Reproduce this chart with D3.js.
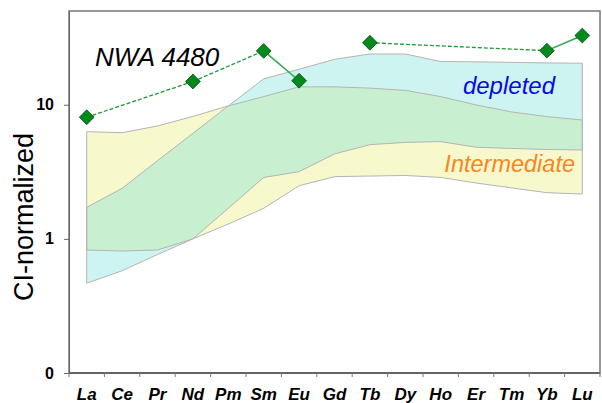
<!DOCTYPE html>
<html>
<head>
<meta charset="utf-8">
<script src="https://d3js.org/d3.v7.min.js"></script>
<style>
  html, body { margin: 0; padding: 0; background: #fff; }
  text { font-family: Arial, "Liberation Sans", sans-serif; }
</style>
</head>
<body>
<script>
// REE elements on the x axis
const elements = ["La","Ce","Pr","Nd","Pm","Sm","Eu","Gd","Tb","Dy","Ho","Er","Tm","Yb","Lu"];

// depleted field (upper / lower bound)
const depletedMax = [1.72, 2.38, 3.83, 6.12, 9.8, 15.6, 18.4, 21.8, 23.9, 23.9, 21.0, 20.9, 20.7, 20.5, 20.4];
const depletedMin = [0.467, 0.579, 0.764, 1.0, 1.69, 2.87, 3.17, 4.30, 5.04, 5.24, 5.31, 4.82, 4.72, 4.64, 4.60];

// intermediate field (upper / lower bound)
const interMax = [6.30, 6.19, 6.95, 8.18, 9.8, 11.5, 13.6, 13.6, 13.3, 12.8, 11.5, 9.97, 8.84, 8.15, 7.70];
const interMin = [0.826, 0.812, 0.826, 1.0, 1.29, 1.69, 2.49, 2.91, 2.94, 2.97, 2.87, 2.61, 2.40, 2.21, 2.16];

// NWA 4480 sample
const sampleEl = ["La","Nd","Sm","Eu","Tb","Yb","Lu"];
const sampleVal = [8.07, 14.9, 25.2, 15.1, 29.0, 25.3, 32.8];

const yTicks = [0.1, 1, 10];
const yTickLabels = ["0", "1", "10"];

const width = 602, height = 403;
const pLeft = 69, pRight = 600, pTop = 11, pBottom = 373;

const svg = d3.select("body").append("svg")
  .attr("width", width)
  .attr("height", height);

const x = d3.scaleBand().domain(elements).range([pLeft, pRight]);
const cx = d => x(d) + x.bandwidth() / 2;
const y = d3.scaleLog().domain([0.1, 50]).range([pBottom, pTop]);

function band(maxArr, minArr) {
  return d3.area()
    .x((d, i) => cx(elements[i]))
    .y0((d, i) => y(minArr[i]))
    .y1((d, i) => y(maxArr[i]))(elements);
}

const interPath = band(interMax, interMin);
const deplPath = band(depletedMax, depletedMin);

svg.append("clipPath").attr("id", "interClip")
  .append("path").attr("d", interPath);

svg.append("path").attr("d", interPath).attr("fill", "#f7f9cd");
svg.append("path").attr("d", deplPath).attr("fill", "#cdf4f0");
svg.append("path").attr("d", deplPath).attr("fill", "#c8efd0")
  .attr("clip-path", "url(#interClip)");

// outlines of both fields
[interPath, deplPath].forEach(p => {
  svg.append("path").attr("d", p)
    .attr("fill", "none")
    .attr("stroke", "#b4b4b4")
    .attr("stroke-width", 1);
});

// frame
svg.append("rect")
  .attr("x", pLeft).attr("y", pTop)
  .attr("width", pRight - pLeft).attr("height", pBottom - pTop)
  .attr("fill", "none")
  .attr("stroke", "#777")
  .attr("stroke-width", 1.5);

// y axis
const yAxis = svg.append("g")
  .attr("transform", `translate(${pLeft},0)`)
  .call(d3.axisLeft(y).tickValues(yTicks).tickSize(5).tickSizeOuter(0)
    .tickFormat((d, i) => yTickLabels[i]));
yAxis.select(".domain").attr("stroke", "#666");
yAxis.selectAll(".tick line").attr("stroke", "#666");
yAxis.selectAll(".tick text")
  .attr("x", -15)
  .attr("font-size", 16)
  .attr("font-weight", "bold")
  .attr("fill", "#000");

// x axis: ticks on band boundaries, labels in the middle
const xAxis = svg.append("g").attr("transform", `translate(0,${pBottom})`);
xAxis.append("line")
  .attr("x1", pLeft).attr("x2", pRight)
  .attr("stroke", "#555").attr("stroke-width", 1.5);
xAxis.selectAll("line.tk")
  .data(elements.concat(["end"]))
  .enter().append("line")
  .attr("class", "tk")
  .attr("x1", d => d === "end" ? pRight : x(d))
  .attr("x2", d => d === "end" ? pRight : x(d))
  .attr("y1", 0).attr("y2", 4)
  .attr("stroke", "#777");
xAxis.selectAll("text")
  .data(elements)
  .enter().append("text")
  .attr("x", d => cx(d))
  .attr("y", 27)
  .attr("text-anchor", "middle")
  .attr("font-size", 17)
  .attr("font-weight", "bold")
  .attr("font-style", "italic")
  .text(d => d);

// y title
svg.append("text")
  .attr("transform", "translate(33,217) rotate(-90)")
  .attr("text-anchor", "middle")
  .attr("font-size", 27)
  .text("CI-normalized");

// sample line: dashed across missing elements, solid between neighbours
const sample = sampleEl.map((e, i) => ({ e: e, v: sampleVal[i], k: elements.indexOf(e) }));
for (let i = 0; i < sample.length - 1; i++) {
  const a = sample[i], b = sample[i + 1];
  const gap = b.k - a.k;
  if (a.e === "Eu" && b.e === "Tb") {
    continue;
  }
  svg.append("line")
    .attr("x1", cx(a.e)).attr("y1", y(a.v))
    .attr("x2", cx(b.e)).attr("y2", y(b.v))
    .attr("stroke", gap > 1 ? "#1a9a33" : "#2aa84a")
    .attr("stroke-width", gap > 1 ? 1.3 : 1.5)
    .attr("stroke-dasharray", gap > 1 ? "4,2" : null);
}
svg.selectAll("path.pt")
  .data(sample)
  .enter().append("path")
  .attr("class", "pt")
  .attr("d", d3.symbol().type(d3.symbolDiamond2).size(140))
  .attr("transform", d => `translate(${cx(d.e)},${y(d.v)})`)
  .attr("fill", "#008a1a")
  .attr("stroke", "#0b4d12")
  .attr("stroke-width", 0.8);

// labels
svg.append("text")
  .attr("x", 95).attr("y", 66)
  .attr("font-size", 26)
  .attr("font-style", "italic")
  .text("NWA 4480");
svg.append("text")
  .attr("x", 555).attr("y", 94)
  .attr("text-anchor", "end")
  .attr("font-size", 24)
  .attr("font-style", "italic")
  .attr("fill", "#0a0ae6")
  .text("depleted");
svg.append("text")
  .attr("x", 575).attr("y", 172)
  .attr("text-anchor", "end")
  .attr("font-size", 23.5)
  .attr("font-style", "italic")
  .attr("fill", "#f7861e")
  .text("Intermediate");
</script>
</body>
</html>
